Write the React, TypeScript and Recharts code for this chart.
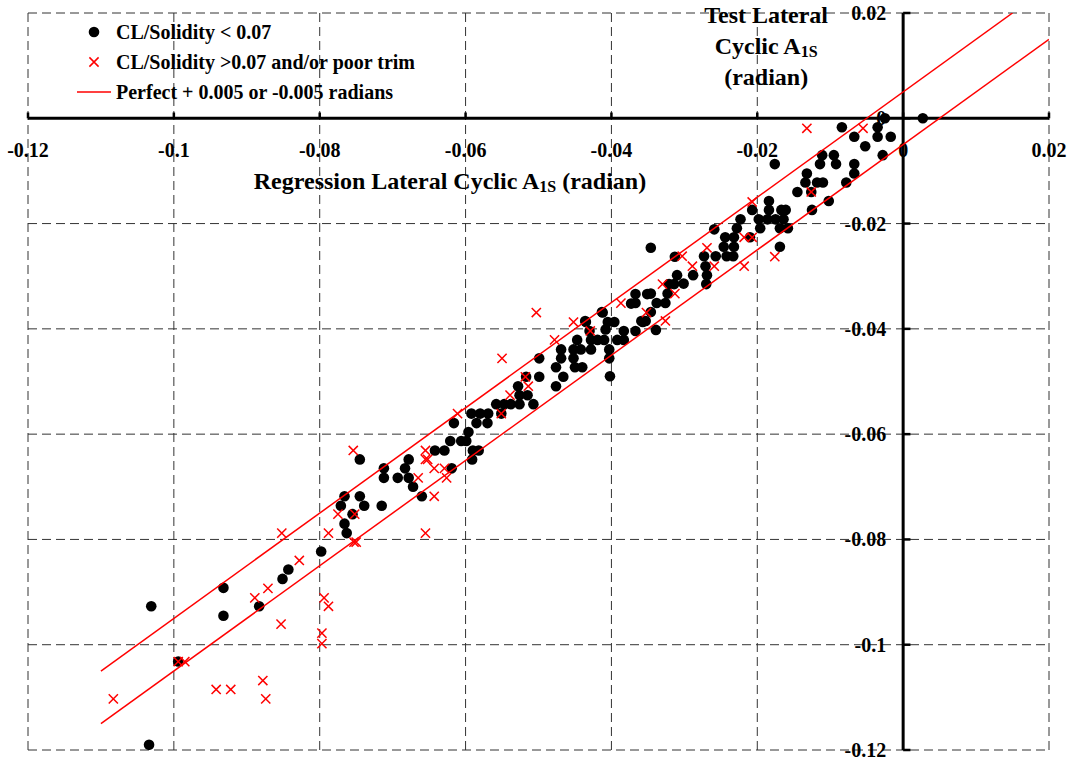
import React from 'react';
import { ScatterChart, Scatter, XAxis, YAxis, ReferenceLine, ReferenceDot, Legend } from 'recharts';

// axis ticks (same range on both axes, radians)
const xTicks = [-0.12, -0.1, -0.08, -0.06, -0.04, -0.02, 0, 0.02];
const yTicks = [-0.12, -0.1, -0.08, -0.06, -0.04, -0.02, 0, 0.02];
const xTickLabels = ['-0.12', '-0.1', '-0.08', '-0.06', '-0.04', '-0.02', '0', '0.02'];
const yTickLabels = ['-0.12', '-0.1', '-0.08', '-0.06', '-0.04', '-0.02', '0', '0.02'];

const legendLabels = ['CL/Solidity < 0.07', 'CL/Solidity >0.07 and/or poor trim', 'Perfect + 0.005 or -0.005 radians'];

// [regression, test] pairs, CL/Solidity < 0.07
const lowSolidityPoints: [number, number][] = [
  [-0.1031, -0.0927], [-0.1034, -0.119], [-0.0932, -0.0892], [-0.0932, -0.0945], [-0.0883, -0.0927],
  [-0.0851, -0.0875], [-0.0843, -0.0857], [-0.0798, -0.0823], [-0.0994, -0.1032],
  [-0.0766, -0.0718], [-0.0771, -0.0736], [-0.0745, -0.0718], [-0.0739, -0.0736], [-0.0755, -0.0752],
  [-0.0766, -0.077], [-0.0763, -0.0788], [-0.0745, -0.0648], [-0.0715, -0.0736], [-0.0712, -0.0665],
  [-0.0712, -0.0683], [-0.0693, -0.0683], [-0.0683, -0.0665], [-0.0678, -0.0648], [-0.0678, -0.0683],
  [-0.0672, -0.07], [-0.066, -0.0718], [-0.0642, -0.0631], [-0.0629, -0.0631], [-0.0621, -0.0613],
  [-0.0619, -0.0665], [-0.0616, -0.0579], [-0.0606, -0.0613], [-0.0599, -0.0613], [-0.0596, -0.0596],
  [-0.0592, -0.0561], [-0.058, -0.0561], [-0.0569, -0.0561], [-0.0585, -0.0579], [-0.057, -0.0579],
  [-0.059, -0.0631], [-0.0582, -0.0631], [-0.0591, -0.0648],
  [-0.0558, -0.0543], [-0.0547, -0.0543], [-0.0538, -0.0543], [-0.0526, -0.0543], [-0.0551, -0.0561],
  [-0.0528, -0.0509], [-0.0526, -0.0526], [-0.0515, -0.0526], [-0.0507, -0.0543], [-0.0517, -0.0491],
  [-0.0499, -0.0456], [-0.0499, -0.0491], [-0.0476, -0.0473], [-0.0466, -0.0491], [-0.0476, -0.0509],
  [-0.0469, -0.0439], [-0.0469, -0.0456], [-0.0452, -0.0439], [-0.0452, -0.0456], [-0.045, -0.0473],
  [-0.044, -0.0473], [-0.0447, -0.0421], [-0.0442, -0.0439], [-0.0428, -0.0439], [-0.0428, -0.0421],
  [-0.0419, -0.0421], [-0.041, -0.0421], [-0.0435, -0.0387], [-0.043, -0.0404], [-0.0408, -0.0401],
  [-0.0405, -0.0387], [-0.0396, -0.0387], [-0.0403, -0.0439], [-0.0403, -0.0456], [-0.0402, -0.049],
  [-0.0412, -0.0369], [-0.0392, -0.0421], [-0.0383, -0.0421], [-0.0383, -0.0404], [-0.0367, -0.0404],
  [-0.0357, -0.0387], [-0.0373, -0.0352], [-0.0367, -0.0334], [-0.0351, -0.0334],
  [-0.0346, -0.0246], [-0.0259, -0.0211], [-0.0244, -0.0226], [-0.0232, -0.0226], [-0.0232, -0.0244],
  [-0.0246, -0.0244], [-0.0242, -0.0262], [-0.0233, -0.0262], [-0.0257, -0.0262], [-0.0273, -0.0262],
  [-0.0271, -0.0281], [-0.0269, -0.0298], [-0.027, -0.0315], [-0.0313, -0.0263], [-0.0288, -0.0298],
  [-0.031, -0.0298], [-0.0301, -0.0314], [-0.0314, -0.0315], [-0.0321, -0.0315], [-0.0323, -0.0333],
  [-0.0326, -0.0351], [-0.0338, -0.0351], [-0.0346, -0.0333], [-0.0367, -0.0351], [-0.0346, -0.0368],
  [-0.0353, -0.0385], [-0.0359, -0.0385], [-0.0339, -0.0402], [-0.0413, -0.0368], [-0.0436, -0.0385],
  [-0.021, -0.0226],
  [-0.0176, -0.0087], [-0.0084, -0.0017], [-0.0067, -0.0035], [-0.0052, -0.0053], [-0.0035, -0.0017],
  [-0.0035, -0.0035], [-0.0025, 0], [-0.0017, -0.0035], [-0.0028, -0.007], [0.0027, 0],
  [-0.0067, -0.0087], [-0.0067, -0.0105], [-0.0078, -0.0122], [-0.0111, -0.007], [-0.0095, -0.007],
  [-0.0092, -0.0087], [-0.0114, -0.0087], [-0.0132, -0.0105], [-0.0134, -0.0122], [-0.0118, -0.0122],
  [-0.011, -0.0122], [-0.0145, -0.014], [-0.0126, -0.014], [-0.0102, -0.0157], [-0.0125, -0.0174],
  [-0.0184, -0.0157], [-0.0184, -0.0174], [-0.0167, -0.0174], [-0.0161, -0.0174], [-0.0207, -0.0174],
  [-0.0198, -0.0192], [-0.0186, -0.0192], [-0.0175, -0.0192], [-0.0164, -0.0192], [-0.0196, -0.0209],
  [-0.0169, -0.0209], [-0.0158, -0.0209], [-0.0169, -0.0244], [-0.0223, -0.0192], [-0.0228, -0.0209],
];

// CL/Solidity > 0.07 and/or poor trim
const highSolidityPoints: [number, number][] = [
  [-0.0852, -0.0788], [-0.0788, -0.0788], [-0.0828, -0.084], [-0.0871, -0.0893], [-0.0889, -0.0911],
  [-0.0794, -0.0911], [-0.0788, -0.0927], [-0.0853, -0.0961], [-0.0797, -0.0978], [-0.0797, -0.0998],
  [-0.0994, -0.1032], [-0.0985, -0.1032], [-0.1083, -0.1103], [-0.0942, -0.1085], [-0.0922, -0.1085],
  [-0.0878, -0.1068], [-0.0874, -0.1103],
  [-0.0754, -0.0631], [-0.0775, -0.0752], [-0.0752, -0.0752], [-0.0753, -0.0805], [-0.075, -0.0805],
  [-0.0655, -0.0631], [-0.0655, -0.0648], [-0.0652, -0.0648], [-0.0643, -0.0665], [-0.0629, -0.0665],
  [-0.0626, -0.0683], [-0.0665, -0.0683], [-0.0643, -0.0718], [-0.0655, -0.0788], [-0.0611, -0.0561],
  [-0.0503, -0.0369], [-0.055, -0.0456], [-0.0551, -0.0561], [-0.0539, -0.0526], [-0.0518, -0.0491],
  [-0.0514, -0.0509], [-0.0478, -0.0421], [-0.0452, -0.0387], [-0.0429, -0.0404], [-0.0387, -0.0351],
  [-0.0352, -0.0369],
  [-0.0207, -0.0159], [-0.0269, -0.0246], [-0.0218, -0.0226], [-0.0207, -0.0226], [-0.0218, -0.0281],
  [-0.0259, -0.0281], [-0.0303, -0.0262], [-0.0289, -0.0281], [-0.033, -0.0315], [-0.0313, -0.0333],
  [-0.0326, -0.0385],
  [-0.0132, -0.0019], [-0.0055, -0.0019], [-0.0126, -0.014], [-0.0176, -0.0263],
];

// perfect agreement +/- 0.005 rad
const upperBand: [number, number][] = [[-0.11, -0.105], [0.015, 0.02]];
const lowerBand: [number, number][] = [[-0.11, -0.115], [0.02, 0.015]];

const FONT = '"Liberation Serif", "Times New Roman", serif';
const RED = '#ff0000';
const GRID = '#333';

const toXY = (pts: [number, number][]) => pts.map(([x, y]) => ({ x, y }));

const renderDot = (props: any) => <circle cx={props.cx} cy={props.cy} r={5.3} fill="#000" />;

const renderCross = (props: any) => {
  const { cx, cy } = props;
  const s = 4.6;
  return (
    <path
      d={`M${cx - s},${cy - s}L${cx + s},${cy + s}M${cx - s},${cy + s}L${cx + s},${cy - s}`}
      stroke={RED}
      strokeWidth={1.5}
      fill="none"
    />
  );
};

const renderNothing = () => <g />;

const xTickLabel = (text: string) => (props: any) => {
  const { x, y } = props.viewBox;
  return (
    <text x={x} y={y + 32} textAnchor="middle" dominantBaseline="central" fontFamily={FONT} fontWeight="bold" fontSize={20} fill="#000">
      {text}
    </text>
  );
};

const yTickLabel = (text: string) => (props: any) => {
  const { x, y } = props.viewBox;
  return (
    <text x={x - 17} y={y} textAnchor="end" dominantBaseline="central" fontFamily={FONT} fontWeight="bold" fontSize={20} fill="#000">
      {text}
    </text>
  );
};

const renderXTitle = (props: any) => {
  const { x, y } = props.viewBox;
  return (
    <text x={x + 422} y={y + 63} textAnchor="middle" dominantBaseline="central" fontFamily={FONT} fontWeight="bold" fontSize={24} fill="#000">
      Regression Lateral Cyclic A<tspan fontSize={16} dy={5}>1S</tspan><tspan dy={-5}> (radian)</tspan>
    </text>
  );
};

const renderYTitle = (props: any) => {
  const { x, y } = props.viewBox;
  const cx = x - 137;
  const common = { textAnchor: 'middle' as const, dominantBaseline: 'central' as const, fontFamily: FONT, fontWeight: 'bold', fontSize: 24, fill: '#000' };
  return (
    <g>
      <text x={cx} y={y + 2} {...common}>Test Lateral</text>
      <text x={cx} y={y + 33} {...common}>Cyclic A<tspan fontSize={16} dy={5}>1S</tspan></text>
      <text x={cx} y={y + 64} {...common}>(radian)</text>
    </g>
  );
};

const renderLegend = () => (
  <svg width={440} height={110} style={{ display: 'block' }}>
    <circle cx={94} cy={32} r={5.3} fill="#000" />
    <path d="M89.4,57.4L98.6,66.6M89.4,66.6L98.6,57.4" stroke={RED} strokeWidth={1.5} />
    <line x1={77} y1={92} x2={111} y2={92} stroke={RED} strokeWidth={1.5} />
    {legendLabels.map((label, i) => (
      <text key={label} x={116} y={32 + i * 30} dominantBaseline="central" fontFamily={FONT} fontWeight="bold" fontSize={20} fill="#000">
        {label}
      </text>
    ))}
  </svg>
);

const App: React.FC = () => {
  const lowData = toXY(lowSolidityPoints);
  const highData = toXY(highSolidityPoints);

  return (
    <div style={{ width: 1073, height: 763, position: 'relative', background: '#fff' }}>
      <style>{'body { margin: 0; }'}</style>
      <ScatterChart width={1073} height={763} margin={{ top: 13, right: 24, bottom: 13, left: 28 }}>
        <XAxis type="number" dataKey="x" domain={[-0.12, 0.02]} ticks={xTicks} allowDataOverflow axisLine={false} tickLine={false} tick={false} height={0} />
        <YAxis type="number" dataKey="y" domain={[-0.12, 0.02]} ticks={yTicks} allowDataOverflow axisLine={false} tickLine={false} tick={false} width={0} />

        {/* dashed grid, one line per tick */}
        {xTicks.map((t) => (
          <ReferenceLine key={`gx${t}`} x={t} stroke={GRID} strokeWidth={1} strokeDasharray="9 5" />
        ))}
        {yTicks.map((t) => (
          <ReferenceLine key={`gy${t}`} y={t} stroke={GRID} strokeWidth={1} strokeDasharray="9 5" />
        ))}

        <ReferenceLine y={0} stroke="#000" strokeWidth={3} label={renderXTitle} />
        <ReferenceLine x={0} stroke="#000" strokeWidth={3} label={renderYTitle} />
        {xTicks.map((t) => (
          <ReferenceLine key={`xt${t}`} segment={[{ x: t, y: 0 }, { x: t, y: 0.0011 }]} stroke="#000" strokeWidth={2.5} />
        ))}
        {yTicks.map((t) => (
          <ReferenceLine key={`yt${t}`} segment={[{ x: 0, y: t }, { x: 0.001, y: t }]} stroke="#000" strokeWidth={2.5} />
        ))}
        {xTicks.map((t, i) => (
          <ReferenceDot key={`xl${t}`} x={t} y={0} r={0} fill="none" stroke="none" label={xTickLabel(xTickLabels[i])} />
        ))}
        {yTicks.map((t, i) => (
          <ReferenceDot key={`yl${t}`} x={0} y={t} r={0} fill="none" stroke="none" label={yTickLabel(yTickLabels[i])} />
        ))}

        <Scatter name={legendLabels[0]} data={lowData} shape={renderDot} isAnimationActive={false} />
        <Scatter name={legendLabels[2]} data={toXY(upperBand)} line={{ stroke: RED, strokeWidth: 1.5 }} shape={renderNothing} isAnimationActive={false} />
        <Scatter data={toXY(lowerBand)} line={{ stroke: RED, strokeWidth: 1.5 }} shape={renderNothing} legendType="none" isAnimationActive={false} />
        <Scatter name={legendLabels[1]} data={highData} shape={renderCross} isAnimationActive={false} />

        <Legend content={renderLegend} layout="vertical" verticalAlign="middle" align="center" wrapperStyle={{ top: 0, left: 0, width: 440, height: 110 }} />
      </ScatterChart>
    </div>
  );
};

export default App;
